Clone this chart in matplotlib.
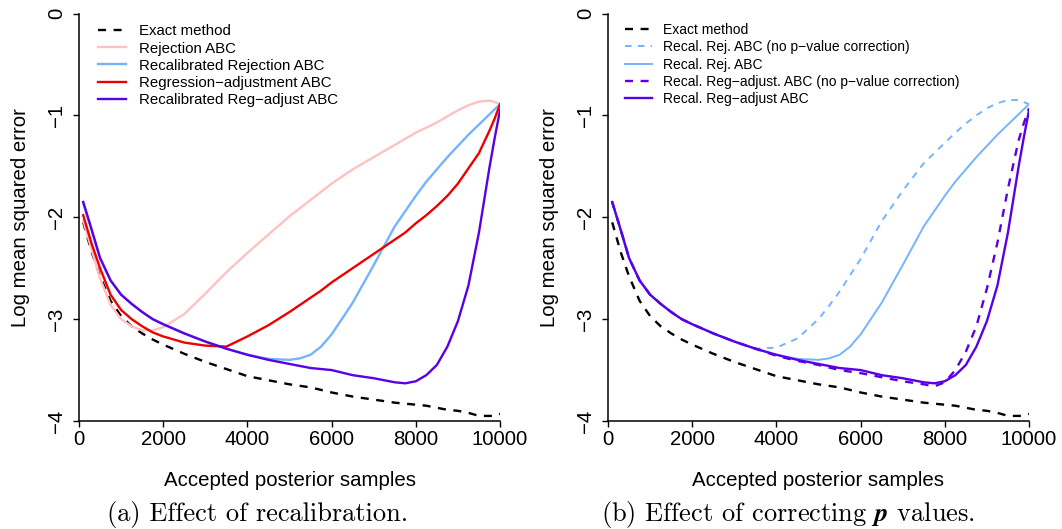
import numpy as np
import matplotlib.pyplot as plt

# accepted posterior samples (x grid shared by all curves)
samples = [100, 300, 500, 750, 1000, 1250, 1500, 1750, 2000, 2500, 3000, 3500,
           4000, 4500, 5000, 5250, 5500, 5750, 6000, 6500, 7000, 7500, 7750, 8000, 8250,
           8500, 8750, 9000, 9250, 9500, 9750, 9875, 10000]

exact = [-2.05, -2.34, -2.58, -2.82, -2.97, -3.07, -3.14, -3.20, -3.25, -3.34, -3.42, -3.49,
         -3.56, -3.60, -3.64, -3.655, -3.67, -3.695, -3.72, -3.76, -3.79, -3.82, -3.83, -3.84, -3.85,
         -3.87, -3.89, -3.90, -3.92, -3.95, -3.95, -3.95, -3.93]

rejection = [-2.03, -2.32, -2.60, -2.86, -3.00, -3.07, -3.11, -3.11, -3.08, -2.95, -2.75, -2.54,
             -2.35, -2.17, -1.99, -1.91, -1.83, -1.75, -1.67, -1.53, -1.41, -1.29, -1.23, -1.17, -1.12,
             -1.07, -1.01, -0.95, -0.90, -0.865, -0.855, -0.87, -0.89]

recal_rej = [-1.86, -2.13, -2.40, -2.62, -2.76, -2.85, -2.93, -3.00, -3.05, -3.14, -3.22, -3.29,
             -3.35, -3.39, -3.40, -3.385, -3.35, -3.27, -3.15, -2.84, -2.47, -2.09, -1.94, -1.79, -1.65,
             -1.53, -1.41, -1.30, -1.19, -1.09, -0.99, -0.94, -0.89]

reg_adj = [-1.98, -2.26, -2.50, -2.76, -2.91, -3.00, -3.07, -3.13, -3.17, -3.23, -3.26, -3.27,
           -3.17, -3.06, -2.93, -2.86, -2.79, -2.72, -2.64, -2.50, -2.36, -2.22, -2.15, -2.06, -1.98,
           -1.89, -1.79, -1.67, -1.52, -1.37, -1.15, -1.03, -0.89]

recal_reg = [-1.85, -2.12, -2.40, -2.62, -2.76, -2.85, -2.93, -3.00, -3.05, -3.14, -3.22, -3.29,
             -3.35, -3.40, -3.44, -3.46, -3.48, -3.49, -3.50, -3.55, -3.58, -3.62, -3.63, -3.61, -3.55,
             -3.45, -3.27, -3.02, -2.67, -2.15, -1.51, -1.22, -0.95]

# without p-value correction
recal_rej_nop = [-1.86, -2.13, -2.40, -2.62, -2.76, -2.85, -2.93, -3.00, -3.05, -3.14, -3.22, -3.29,
                 -3.28, -3.19, -3.00, -2.87, -2.73, -2.57, -2.41, -2.04, -1.74, -1.47, -1.37, -1.27, -1.17,
                 -1.08, -1.00, -0.93, -0.88, -0.85, -0.85, -0.87, -0.89]

recal_reg_nop = [-1.85, -2.12, -2.40, -2.62, -2.76, -2.85, -2.93, -3.00, -3.05, -3.14, -3.22, -3.29,
                 -3.36, -3.41, -3.45, -3.475, -3.50, -3.515, -3.53, -3.57, -3.61, -3.64, -3.66, -3.62, -3.50,
                 -3.32, -3.07, -2.70, -2.25, -1.72, -1.25, -1.08, -0.93]

labels_a = ["Exact method", "Rejection ABC", "Recalibrated Rejection ABC",
            "Regression\u2212adjustment ABC", "Recalibrated Reg\u2212adjust ABC"]
labels_b = ["Exact method", "Recal. Rej. ABC (no p\u2212value correction)", "Recal. Rej. ABC",
            "Recal. Reg\u2212adjust. ABC (no p\u2212value correction)", "Recal. Reg\u2212adjust ABC"]

PINK = "#ffc1c1"
LBLUE = "#74b4ff"
RED = "#ee0000"
PURPLE = "#5a00e6"

plt.rcParams['font.family'] = ['Liberation Sans', 'DejaVu Sans']
plt.rcParams['mathtext.fontset'] = 'custom'
plt.rcParams['mathtext.bf'] = 'STIXGeneral:italic:bold'

W, H = 1062, 529
fig = plt.figure(figsize=(W / 100, H / 100), dpi=100)

def px_axes(x0, x1, ytop, ybot):
    return fig.add_axes([x0 / W, 1 - ybot / H, (x1 - x0) / W, (ybot - ytop) / H])

ax1 = px_axes(79, 500, 13.5, 421)
ax2 = px_axes(608, 1029, 13.5, 421)

x = np.array(samples)
dash = (3.4, 3.2)

ax1.plot(x, exact, color="black", lw=1.7, dashes=dash, label=labels_a[0])
ax1.plot(x, rejection, color=PINK, lw=1.7, label=labels_a[1])
ax1.plot(x, recal_rej, color=LBLUE, lw=1.7, label=labels_a[2])
ax1.plot(x, reg_adj, color=RED, lw=1.7, label=labels_a[3])
ax1.plot(x, recal_reg, color=PURPLE, lw=1.7, label=labels_a[4])

ax2.plot(x, exact, color="black", lw=1.7, dashes=dash, label=labels_b[0])
ax2.plot(x, recal_rej_nop, color=LBLUE, lw=1.4, dashes=dash, label=labels_b[1])
ax2.plot(x, recal_rej, color=LBLUE, lw=1.4, label=labels_b[2])
ax2.plot(x, recal_reg_nop, color=PURPLE, lw=1.7, dashes=dash, label=labels_b[3])
ax2.plot(x, recal_reg, color=PURPLE, lw=1.7, label=labels_b[4])

for ax in (ax1, ax2):
    ax.set_xlim(0, 10000)
    ax.set_ylim(-4, 0)
    ax.spines['top'].set_visible(False)
    ax.spines['right'].set_visible(False)
    ax.spines['left'].set_linewidth(1.1)
    ax.spines['bottom'].set_linewidth(1.1)
    ax.set_xticks([0, 2000, 4000, 6000, 8000, 10000])
    ax.set_yticks([0, -1, -2, -3, -4])
    ax.set_yticklabels(["0", "\u22121", "\u22122", "\u22123", "\u22124"],
                       rotation=90, va="center")
    ax.tick_params(direction="out", length=4.5, width=1.0, labelsize=14.7, pad=2)
    ax.tick_params(axis="y", pad=5)
    ax.set_xlabel("Accepted posterior samples", fontsize=14.7, labelpad=16)
    ax.set_ylabel("Log mean squared error", fontsize=14.7, labelpad=12)

ax1.legend(loc="upper left", bbox_to_anchor=(0.031, 0.988), frameon=False, fontsize=10.8,
           handlelength=1.85, handletextpad=0.9, labelspacing=0.21, borderaxespad=0)
ax2.legend(loc="upper left", bbox_to_anchor=(0.026, 0.99), frameon=False, fontsize=10,
           handlelength=1.95, handletextpad=0.85, labelspacing=0.23, borderaxespad=0)

fig.text(258 / W, 1 - 515 / H, "(a) Effect of recalibration.", family="cmr10",
         fontsize=19, ha="center", va="center")
fig.text(788 / W, 1 - 515 / H, r"(b) Effect of correcting $\mathbf{p}$ values.", family="cmr10",
         fontsize=19, ha="center", va="center")

fig.savefig("out.png", dpi=100)
